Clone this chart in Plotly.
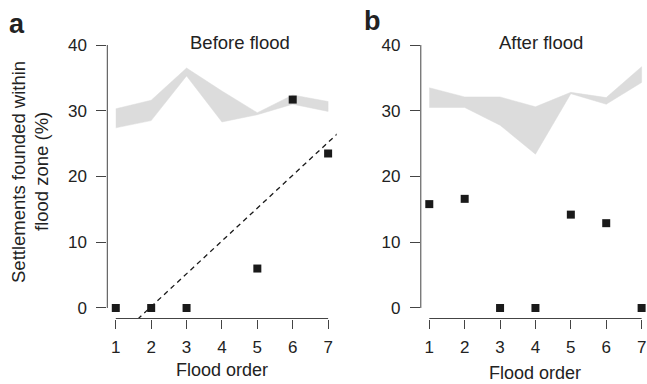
import numpy as np
import plotly.graph_objects as go

W, H = 647, 384

flood_order = [1, 2, 3, 4, 5, 6, 7]
xtick_labels = ["1", "2", "3", "4", "5", "6", "7"]
ytick_vals = [0, 10, 20, 30, 40]

# Before flood: observed points (no settlement data for order 4)
before_x = [1, 2, 3, 5, 6, 7]
before_y = [0, 0, 0, 6.0, 31.7, 23.5]
before_band_lower = [27.4, 28.5, 35.3, 28.3, 29.4, 31.0, 29.9]
before_band_upper = [30.3, 31.6, 36.5, 33.0, 29.7, 32.4, 31.4]

# After flood
after_x = [1, 2, 3, 4, 5, 6, 7]
after_y = [15.8, 16.6, 0, 0, 14.2, 12.9, 0]
after_band_lower = [30.5, 30.5, 27.8, 23.4, 32.6, 31.0, 34.3]
after_band_upper = [33.5, 32.1, 32.1, 30.6, 32.8, 32.0, 36.7]

BAND = "#dcdcdc"
INK = "#1a1a1a"
AX = "#444444"
FONT = "Liberation Sans, Arial, sans-serif"

def px_x(p):
    return p / W

def px_y(p):
    return 1 - p / H

fig = go.Figure()

def add_panel(xref, yref, bx, lo, hi, pxs, pys):
    poly_x = list(bx) + list(bx)[::-1]
    poly_y = list(hi) + list(lo)[::-1]
    fig.add_trace(go.Scatter(x=poly_x, y=poly_y, fill="toself", fillcolor=BAND,
                             line=dict(width=0.5, color=BAND), mode="lines",
                             xaxis=xref, yaxis=yref, hoverinfo="skip", showlegend=False))
    fig.add_trace(go.Scatter(x=pxs, y=pys, mode="markers",
                             marker=dict(symbol="square", size=8, color=INK),
                             xaxis=xref, yaxis=yref, showlegend=False, cliponaxis=False))

add_panel("x", "y", flood_order, before_band_lower, before_band_upper, before_x, before_y)
add_panel("x2", "y2", flood_order, after_band_lower, after_band_upper, after_x, after_y)

# regression line for before-flood points
slope, intercept = np.polyfit(before_x, before_y, 1)
lx = np.array([0.5, 7.5])
fig.add_trace(go.Scatter(x=lx, y=slope * lx + intercept, mode="lines",
                         line=dict(color=INK, width=1.3, dash="5px,4px"),
                         xaxis="x", yaxis="y", showlegend=False, hoverinfo="skip"))

# layout geometry (page pixels)
yb, yt = 318.5, 34.5
left_l, left_r = 107.3, 336.6
right_l, right_r = 420.8, 647.0
xr_left = [0.76, 7.24]
ppu = (left_r - left_l) / (xr_left[1] - xr_left[0])
xr_right = [0.76, 0.76 + (right_r - right_l) / ppu]
yr = [-1.6, 41.6]

tickfont = dict(family=FONT, size=17, color="#222222")
xcommon = dict(tickmode="array", tickvals=flood_order, ticktext=xtick_labels,
               ticks="outside", ticklen=9, tickwidth=1, tickcolor=AX,
               showline=False, showgrid=False, zeroline=False, tickfont=tickfont,
               ticklabelstandoff=4, ticklabeloverflow="allow", fixedrange=True)
ycommon = dict(tickmode="array", tickvals=ytick_vals, ticktext=[str(v) for v in ytick_vals],
               ticks="outside", ticklen=10, tickwidth=1, tickcolor=AX,
               showline=False, showgrid=False, zeroline=False, tickfont=tickfont,
               ticklabelstandoff=6, range=yr, fixedrange=True)

fig.update_layout(
    width=W, height=H,
    margin=dict(l=0, r=0, t=0, b=0, autoexpand=False),
    paper_bgcolor="white", plot_bgcolor="white",
    font=dict(family=FONT, color="#222222"),
    xaxis=dict(domain=[px_x(left_l), px_x(left_r)], range=xr_left, anchor="y", **xcommon),
    yaxis=dict(domain=[px_y(yb), px_y(yt)], anchor="x", **ycommon),
    xaxis2=dict(domain=[px_x(right_l), min(1.0, px_x(right_r))], range=xr_right, anchor="y2", **xcommon),
    yaxis2=dict(domain=[px_y(yb), px_y(yt)], anchor="x2", **ycommon),
)

# R-style axis lines spanning first to last tick
for xa, ya in (("x", "y"), ("x2", "y2")):
    fig.add_shape(type="line", xref=xa, yref=ya + " domain", x0=flood_order[0], x1=flood_order[-1],
                  y0=0, y1=0, line=dict(color=AX, width=1))
    fig.add_shape(type="line", xref=xa + " domain", yref=ya, x0=0, x1=0,
                  y0=ytick_vals[0], y1=ytick_vals[-1], line=dict(color=AX, width=1))

def add_text(text, xp, yp, size=17, bold=False, angle=0):
    fig.add_annotation(text=("<b>%s</b>" % text) if bold else text, xref="paper", yref="paper",
                       x=px_x(xp), y=px_y(yp), xanchor="center", yanchor="middle",
                       showarrow=False, textangle=angle,
                       font=dict(family=FONT, size=size, color="#222222"))

add_text("Before flood", 240, 43, size=18.5)
add_text("After flood", 541, 43, size=18.5)
add_text("Flood order", 222, 370, size=18)
add_text("Flood order", 535, 373, size=18)
add_text("a", 17, 24, size=27, bold=True)
add_text("b", 372, 21, size=27, bold=True)
add_text("Settlements founded within", 18, 172, size=18.5, angle=-90)
add_text("flood zone (%)", 41, 172, size=18.5, angle=-90)

# remove the default page margin so the figure fills the window exactly
fig.write_html("out.html",
               config={"displayModeBar": False, "staticPlot": True},
               post_script="document.body.style.margin='0';document.body.style.overflow='hidden';")
